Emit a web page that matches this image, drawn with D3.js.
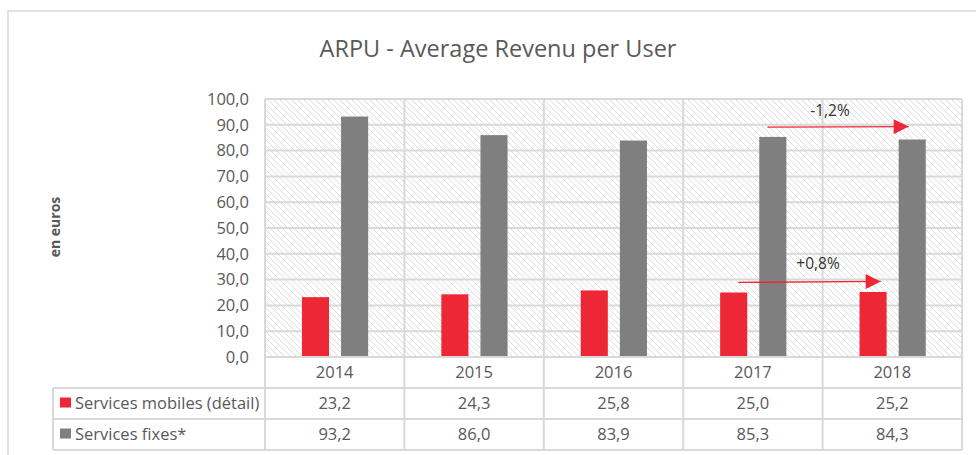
<!DOCTYPE html>
<html>
<head>
<meta charset="utf-8">
<script src="https://cdn.jsdelivr.net/npm/d3@7"></script>
<style>
body{margin:0;background:#fff;}
text{font-family:"Open Sans",sans-serif;}
</style>
</head>
<body>
<div id="chart"></div>
<script>
var years = ["2014","2015","2016","2017","2018"]
var seriesNames = ["Services mobiles (détail)","Services fixes*"]
var mobiles = [23.2,24.3,25.8,25.0,25.2]
var fixes = [93.2,86.0,83.9,85.3,84.3]
var yTicks = [0,10,20,30,40,50,60,70,80,90,100]
// growth notes: bar fraction where the arrow starts / ends
var notes = [{from:"2017",to:"2018",s:1,f0:0.3,f1:0.37,v0:89.1,v1:89.3,label:"-1,2%",lv:95.7,lx:830},
             {from:"2017",to:"2018",s:0,f0:0.67,f1:0.78,v0:28.9,v1:29.3,label:"+0,8%",lv:36.2,lx:818}]

var W=976,H=455
var colors=["#ee2737","#7f7f7f"]
var grid="#d9d9d9", txt="#595959"
var fmt=function(v){return d3.format(".1f")(v).replace(".",",")}

var svg=d3.select("#chart").append("svg").attr("width",W).attr("height",H)

var defs=svg.append("defs")
var pat=defs.append("pattern").attr("id","hatch").attr("patternUnits","userSpaceOnUse")
	.attr("width",6).attr("height",6)
pat.append("rect").attr("width",6).attr("height",6).attr("fill","#fff")
pat.append("path").attr("d","M0,0L6,6M-1,5L1,7M5,-1L7,1")
	.attr("stroke","#dedede").attr("stroke-width",1)
defs.append("marker").attr("id","head").attr("viewBox","0 0 10 10").attr("refX",10).attr("refY",5)
	.attr("markerWidth",16).attr("markerHeight",15).attr("markerUnits","userSpaceOnUse")
	.attr("orient","auto")
	.append("path").attr("d","M0,0L10,5L0,10Z").attr("fill",colors[0])

// outer frame
svg.append("rect").attr("x",8).attr("y",11).attr("width",1000).attr("height",500)
	.attr("fill","none").attr("stroke",grid).attr("stroke-width",1.5)

svg.append("text").attr("x",498).attr("y",57).attr("text-anchor","middle")
	.attr("font-size",23.5).attr("fill",txt).text("ARPU - Average Revenu per User")

var x=d3.scaleBand().domain(years).range([265,962])
var y=d3.scaleLinear().domain([0,100]).range([357,99])
var xs=d3.scaleBand().domain([0,1]).range([0.265,0.74]).paddingInner(0.3077)

var plot=svg.append("g")
plot.append("rect").attr("x",265).attr("y",y(100)).attr("width",962-265).attr("height",y(0)-y(100))
	.attr("fill","url(#hatch)")

plot.selectAll(".hg").data(yTicks).enter().append("line")
	.attr("x1",265).attr("x2",962).attr("y1",function(d){return y(d)}).attr("y2",function(d){return y(d)})
	.attr("stroke",grid).attr("stroke-width",2)
var vx=years.map(function(d){return x(d)}).concat([962])
plot.selectAll(".vg").data(vx).enter().append("line")
	.attr("x1",function(d){return d}).attr("x2",function(d){return d})
	.attr("y1",y(100)).attr("y2",450)
	.attr("stroke",grid).attr("stroke-width",2)

// y axis labels
svg.selectAll(".yl").data(yTicks).enter().append("text")
	.attr("x",249).attr("y",function(d){return y(d)}).attr("dy","0.35em")
	.attr("text-anchor","end").attr("font-size",16.5).attr("fill",txt)
	.text(fmt)

svg.append("text").attr("transform","translate(60,227) rotate(-90)")
	.attr("text-anchor","middle").attr("font-size",14).attr("font-weight","bold")
	.attr("fill",txt).text("en euros")

// bars
var series=[mobiles,fixes]
var bw=x.bandwidth()
series.forEach(function(vals,s){
	plot.selectAll(".b"+s).data(vals).enter().append("rect")
		.attr("x",function(d,i){return x(years[i])+xs(s)*bw})
		.attr("width",xs.bandwidth()*bw)
		.attr("y",function(d){return y(d)})
		.attr("height",function(d){return y(0)-y(d)})
		.attr("fill",colors[s])
})

// data table
var rowY=[357,388,419,450]
var tg=svg.append("g")
rowY.forEach(function(r,i){
	tg.append("line").attr("x1",i==0?265:53).attr("x2",962).attr("y1",r).attr("y2",r)
		.attr("stroke",grid).attr("stroke-width",2)
})
tg.append("line").attr("x1",53).attr("x2",53).attr("y1",388).attr("y2",450)
	.attr("stroke",grid).attr("stroke-width",2)
tg.selectAll(".yr").data(years).enter().append("text")
	.attr("x",function(d){return x(d)+bw/2}).attr("y",(rowY[0]+rowY[1])/2).attr("dy","0.35em")
	.attr("text-anchor","middle").attr("font-size",16.5).attr("fill",txt).text(function(d){return d})
series.forEach(function(vals,s){
	var cy=(rowY[s+1]+rowY[s+2])/2
	tg.append("rect").attr("x",60).attr("y",cy-6).attr("width",11).attr("height",10).attr("fill",colors[s])
	tg.append("text").attr("x",75).attr("y",cy).attr("dy","0.35em")
		.attr("font-size",16.5).attr("fill",txt).text(seriesNames[s])
	tg.selectAll(".v"+s).data(vals).enter().append("text")
		.attr("x",function(d,i){return x(years[i])+bw/2}).attr("y",cy).attr("dy","0.35em")
		.attr("text-anchor","middle").attr("font-size",16.5).attr("fill",txt).text(fmt)
})

// growth arrows
notes.forEach(function(n){
	var x0=x(n.from)+(xs(n.s)+xs.bandwidth()*n.f0)*bw
	var x1=x(n.to)+(xs(n.s)+xs.bandwidth()*n.f1)*bw
	svg.append("line").attr("x1",x0).attr("x2",x1).attr("y1",y(n.v0)).attr("y2",y(n.v1))
		.attr("stroke",colors[0]).attr("stroke-width",1.3).attr("marker-end","url(#head)")
	svg.append("text").attr("x",n.lx).attr("y",y(n.lv)).attr("dy","0.35em")
		.attr("text-anchor","middle").attr("font-size",15.5).attr("fill","#333").text(n.label)
})
</script>
</body>
</html>
